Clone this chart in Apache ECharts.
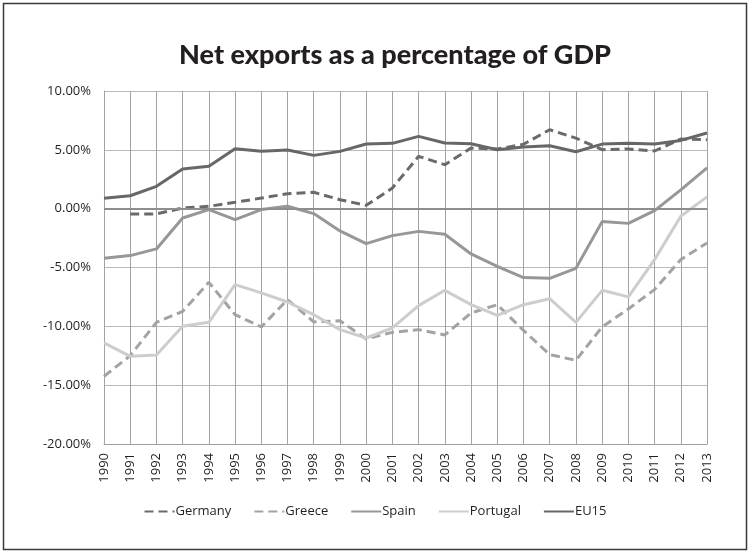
<!DOCTYPE html>
<html>
<head>
<meta charset="utf-8">
<script src="https://cdn.jsdelivr.net/npm/echarts@6/dist/echarts.min.js"></script>
<style>
  html, body { margin: 0; padding: 0; background: #fff; }
  #chart { width: 750px; height: 553px; }
</style>
</head>
<body>
<div id="chart"></div>
<script>
// Net exports as a share of GDP, in percent
var years = ['1990','1991','1992','1993','1994','1995','1996','1997','1998','1999','2000','2001',
             '2002','2003','2004','2005','2006','2007','2008','2009','2010','2011','2012','2013'];

var germany  = [null, -0.45, -0.45, 0.06, 0.2, 0.54, 0.9, 1.27, 1.39, 0.76, 0.28, 1.76,
                4.45, 3.74, 5.15, 5.07, 5.47, 6.71, 6.0, 5.01, 5.07, 4.9, 5.92, 5.86];
var greece   = [-14.25, -12.49, -9.66, -8.73, -6.26, -9.01, -10.05, -7.73, -9.63, -9.52, -11.07, -10.51,
                -10.28, -10.73, -8.86, -8.16, -10.34, -12.4, -12.89, -10.05, -8.52, -6.88, -4.33, -2.91];
var spain    = [-4.22, -3.99, -3.42, -0.79, -0.08, -0.93, -0.08, 0.2, -0.42, -1.89, -2.97, -2.29,
                -1.93, -2.18, -3.85, -4.9, -5.86, -5.92, -5.07, -1.1, -1.25, -0.17, 1.6, 3.46];
var portugal = [-11.41, -12.55, -12.43, -10.0, -9.66, -6.46, -7.16, -7.93, -9.01, -10.28, -10.99, -10.14,
                -8.24, -6.94, -8.16, -9.07, -8.16, -7.65, -9.66, -6.94, -7.5, -4.33, -0.65, 1.0];
var eu15     = [0.88, 1.1, 1.9, 3.37, 3.6, 5.1, 4.87, 4.98, 4.53, 4.87, 5.5, 5.55,
                6.14, 5.58, 5.52, 5.01, 5.24, 5.35, 4.84, 5.49, 5.55, 5.49, 5.8, 6.43];

var FONT = 'Open Sans';

function lineSeries(name, data, color, dashed) {
  return {
    name: name,
    type: 'line',
    data: data,
    symbol: 'none',
    connectNulls: false,
    lineStyle: { color: color, width: 3, type: dashed ? [9, 5] : 'solid', cap: 'butt' },
    itemStyle: { color: color },
    emphasis: { disabled: true },
    animation: false
  };
}

var series = [
  lineSeries('Germany', germany, '#6a6a6a', true),
  lineSeries('Greece', greece, '#a3a3a3', true),
  lineSeries('Spain', spain, '#979797', false),
  lineSeries('Portugal', portugal, '#cdcdcd', false),
  lineSeries('EU15', eu15, '#676767', false)
];

// zero reference line, drawn beneath the data lines
series.unshift({
  type: 'line',
  data: [],
  silent: true,
  animation: false,
  markLine: {
    silent: true,
    symbol: 'none',
    label: { show: false },
    lineStyle: { color: '#8e8e8e', width: 2, type: 'solid' },
    data: [{ yAxis: 0 }]
  }
});

var chart = echarts.init(document.getElementById('chart'), null, { renderer: 'canvas' });
chart.setOption({
  backgroundColor: '#fff',
  animation: false,
  title: {
    text: 'Net exports as a percentage of GDP',
    left: 390,
    top: 37,
    textAlign: 'center',
    textStyle: { fontFamily: 'Lato', fontWeight: 900, fontSize: 27, color: '#231f20' }
  },
  grid: { left: 104, right: 43, top: 91, bottom: 109, containLabel: false },
  legend: {
    data: ['Germany', 'Greece', 'Spain', 'Portugal', 'EU15'],
    left: 'center',
    top: 500,
    width: 700,
    itemWidth: 30,
    itemHeight: 14,
    itemGap: 22,
    itemStyle: { opacity: 0 },
    textStyle: { fontFamily: FONT, fontSize: 13, color: '#231f20', padding: [0, 0, 0, -4] }
  },
  xAxis: {
    type: 'category',
    data: years,
    boundaryGap: false,
    axisLine: { onZero: false, lineStyle: { color: '#a0a0a0', width: 1 } },
    axisTick: { show: false },
    axisLabel: { rotate: 90, margin: 9, fontFamily: FONT, fontSize: 13, color: '#231f20', interval: 0 },
    splitLine: { show: true, interval: 0, lineStyle: { color: '#a3a3a3', width: 1 } }
  },
  yAxis: {
    type: 'value',
    min: -20,
    max: 10,
    interval: 5,
    axisLine: { show: true, lineStyle: { color: '#a3a3a3', width: 1 } },
    axisTick: { show: false },
    axisLabel: {
      margin: 13,
      fontFamily: FONT,
      fontSize: 13,
      color: '#231f20',
      formatter: function (v) { return v.toFixed(2) + '%'; }
    },
    splitLine: { show: true, lineStyle: { color: '#b9b9b9', width: 1 } }
  },
  graphic: [{
    type: 'rect',
    shape: { x: 3.5, y: 3.5, width: 743, height: 546 },
    style: { fill: null, stroke: '#3a3a3a', lineWidth: 1.5 },
    silent: true
  }],
  series: series
});
</script>
</body>
</html>
